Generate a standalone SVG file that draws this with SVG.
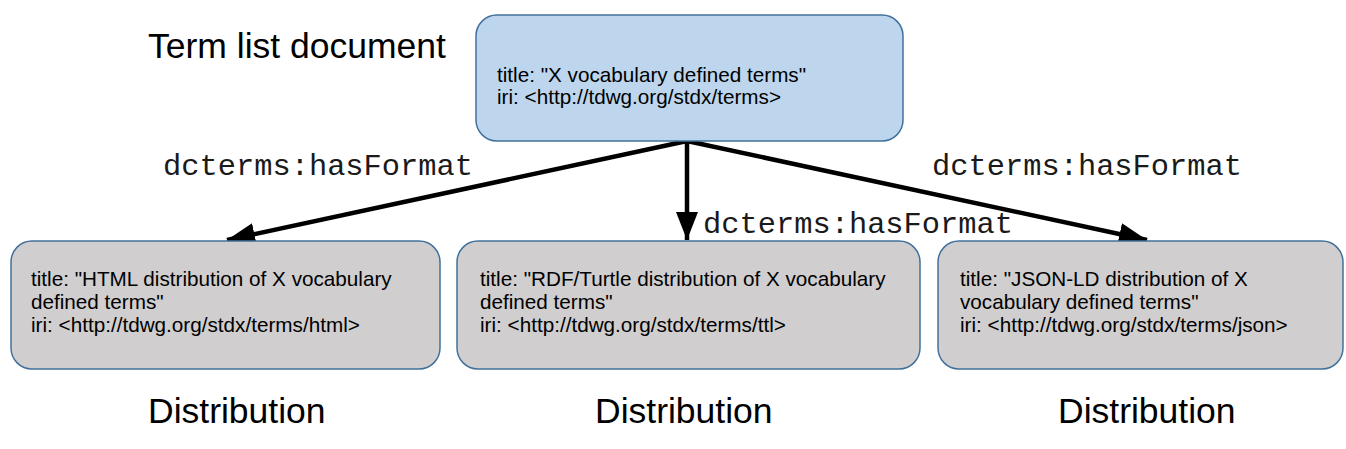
<svg xmlns="http://www.w3.org/2000/svg" width="1346" height="449" viewBox="0 0 1346 449">
  <style>
    .bg { fill: #ffffff; }
    .doc { fill: #bdd6ee; stroke: #41719c; stroke-width: 1.5; }
    .dist { fill: #d0cece; stroke: #41719c; stroke-width: 1.5; }
    .body { font-family: "Liberation Sans", Arial, sans-serif; font-size: 20.7px; fill: #000000; }
    .caption { font-family: "Liberation Sans", Arial, sans-serif; font-size: 35.5px; fill: #000000; }
    .prop { font-family: "Liberation Mono", "Courier New", monospace; font-size: 30.4px; fill: #1a1a1a; }
    .edge { stroke: #000000; stroke-width: 4.5; fill: none; marker-end: url(#head); }
  </style>
  <defs>
    <marker id="head" markerUnits="userSpaceOnUse" markerWidth="30" markerHeight="24" refX="28" refY="11" orient="auto">
      <path d="M0,0 L28,11 L0,22 Z" fill="#000000"/>
    </marker>
  </defs>

  <rect class="bg" x="0" y="0" width="1346" height="449"/>

  <!-- connectors: term list document to each distribution -->
  <g id="connectors">
    <line class="edge" x1="687" y1="141" x2="227" y2="240"/>
    <line class="edge" x1="687" y1="141" x2="687" y2="240"/>
    <line class="edge" x1="687" y1="141" x2="1147" y2="240"/>
    <text class="prop" x="163" y="175">dcterms:hasFormat</text>
    <text class="prop" x="703" y="233">dcterms:hasFormat</text>
    <text class="prop" x="932" y="175">dcterms:hasFormat</text>
  </g>

  <!-- term list document -->
  <g id="term-list">
    <text class="caption" x="148" y="58">Term list document</text>
    <rect class="doc" x="476" y="15" width="427" height="126" rx="21" ry="21"/>
    <text class="body" x="497" y="82">title: "X vocabulary defined terms"</text>
    <text class="body" x="497" y="104">iri: &lt;http://tdwg.org/stdx/terms&gt;</text>
  </g>

  <!-- HTML distribution -->
  <g id="dist-html">
    <rect class="dist" x="11" y="241" width="429" height="128" rx="21" ry="21"/>
    <text class="body" x="31" y="286">title: "HTML distribution of X vocabulary</text>
    <text class="body" x="31" y="309">defined terms"</text>
    <text class="body" x="31" y="332">iri: &lt;http://tdwg.org/stdx/terms/html&gt;</text>
    <text class="caption" x="148" y="423">Distribution</text>
  </g>

  <!-- RDF/Turtle distribution -->
  <g id="dist-ttl">
    <rect class="dist" x="457" y="241" width="463" height="128" rx="21" ry="21"/>
    <text class="body" x="480" y="286">title: "RDF/Turtle distribution of X vocabulary</text>
    <text class="body" x="480" y="309">defined terms"</text>
    <text class="body" x="480" y="332">iri: &lt;http://tdwg.org/stdx/terms/ttl&gt;</text>
    <text class="caption" x="595" y="423">Distribution</text>
  </g>

  <!-- JSON-LD distribution -->
  <g id="dist-json">
    <rect class="dist" x="938" y="241" width="405" height="128" rx="21" ry="21"/>
    <text class="body" x="960" y="286">title: "JSON-LD distribution of X</text>
    <text class="body" x="960" y="309">vocabulary defined terms"</text>
    <text class="body" x="960" y="332">iri: &lt;http://tdwg.org/stdx/terms/json&gt;</text>
    <text class="caption" x="1058" y="423">Distribution</text>
  </g>
</svg>
